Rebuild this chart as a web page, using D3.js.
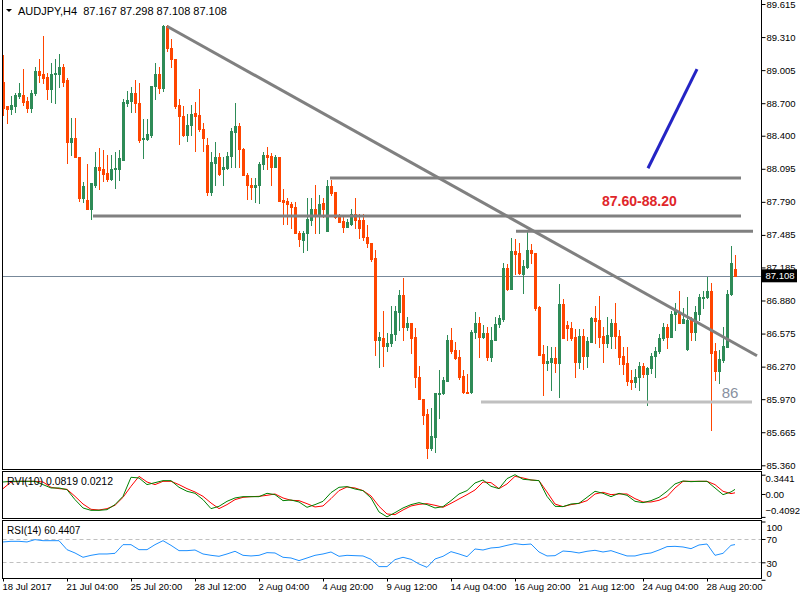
<!DOCTYPE html>
<html>
<head>
<meta charset="utf-8">
<script src="https://cdn.jsdelivr.net/npm/d3@7"></script>
<style>
  body { margin: 0; background: #fff; }
  svg text { font-family: "Liberation Sans", Arial, sans-serif; }
</style>
</head>
<body>
<div id="chart"></div>
<script>
// AUDJPY H4 bars (184 bars, 18 Jul .. 30 Aug 2017)
const opens = [88.90,88.67,88.65,88.67,88.77,88.78,88.72,88.66,88.79,89.00,88.97,88.94,88.83,88.97,88.97,89.03,88.91,88.34,88.38,88.20,
  87.83,87.81,87.72,87.95,88.11,88.09,88.06,88.00,88.09,88.09,88.18,88.70,88.72,88.79,88.70,88.37,88.37,88.41,88.86,88.97,
  88.84,89.41,89.21,89.11,88.68,88.58,88.41,88.50,88.61,88.59,88.46,88.31,87.88,88.15,88.20,88.09,88.10,88.21,88.43,88.49,
  88.28,88.04,87.95,87.93,87.95,88.14,88.22,88.21,88.11,88.20,87.81,87.80,87.77,87.74,87.50,87.44,87.50,87.62,87.72,87.67,
  87.78,87.52,87.94,87.88,87.65,87.61,87.56,87.59,87.68,87.62,87.62,87.47,87.41,87.27,86.52,86.53,86.46,86.49,86.57,86.77,
  86.93,86.64,86.67,86.54,86.17,85.97,85.83,85.52,85.62,86.02,86.03,86.14,86.52,86.42,86.36,86.18,86.04,86.04,86.59,86.67,
  86.54,86.58,86.36,86.52,86.66,86.71,87.18,86.99,87.34,87.32,87.12,87.19,87.35,87.32,86.82,86.39,86.30,86.31,86.35,86.30,
  86.85,86.65,86.63,86.54,86.31,86.55,86.37,86.50,86.72,86.70,86.55,86.49,86.55,86.67,86.55,86.37,86.30,86.15,86.13,86.17,
  86.28,86.20,86.26,86.37,86.41,86.53,86.64,86.54,86.76,86.77,86.67,86.43,86.70,86.59,86.76,86.90,86.91,86.97,86.41,86.23,
  86.33,86.45,86.94,87.167];
const highs = [89.14,88.67,88.77,88.79,88.89,89.02,88.76,88.82,89.03,89.11,89.32,88.98,89.07,89.11,89.15,89.06,88.93,88.56,88.56,88.20,
  87.97,88.14,87.96,88.25,88.29,88.27,88.22,88.22,88.25,88.27,88.74,88.81,88.85,88.91,88.89,88.55,88.55,88.86,89.07,89.03,
  89.42,89.42,89.29,89.11,88.74,88.67,88.60,88.68,88.71,88.83,88.52,88.38,88.25,88.34,88.24,88.20,88.25,88.47,88.70,88.52,
  88.29,88.06,88.01,88.01,88.16,88.25,88.30,88.24,88.22,88.20,87.91,87.83,87.79,87.79,87.52,87.52,87.83,87.83,87.95,87.85,
  87.83,87.99,87.99,87.88,87.68,87.65,87.63,87.72,87.83,87.68,87.68,87.58,87.41,87.35,86.59,86.78,86.58,86.83,86.83,86.98,
  87.09,86.73,86.67,86.63,86.28,85.97,85.88,85.89,86.03,86.24,86.17,86.56,86.63,86.50,86.42,86.24,86.20,86.61,86.77,86.73,
  86.65,86.64,86.64,86.73,86.75,87.23,87.22,87.46,87.45,87.41,87.25,87.53,87.40,87.32,86.83,86.47,86.46,86.45,86.45,87.03,
  86.89,86.69,86.68,86.62,86.62,86.62,86.54,86.73,86.83,86.92,86.64,86.73,86.71,86.86,86.61,86.45,86.45,86.24,86.25,86.31,
  86.30,86.27,86.40,86.45,86.57,86.67,86.66,86.78,86.86,86.97,86.81,86.91,86.73,86.83,86.94,86.97,87.10,87.04,86.49,86.42,
  86.64,86.98,87.38,87.298];
const lows = [88.59,88.52,88.60,88.62,88.75,88.68,88.62,88.62,88.78,88.90,88.89,88.74,88.71,88.70,88.85,88.86,88.15,88.22,88.20,87.80,
  87.79,87.72,87.63,87.93,87.91,87.98,87.98,87.99,87.92,87.99,88.18,88.67,88.62,88.62,88.34,88.19,88.36,88.39,88.74,88.79,
  88.81,89.18,89.03,88.66,88.32,88.40,88.35,88.41,88.26,88.44,88.26,87.85,87.85,87.95,88.04,87.95,88.09,88.11,88.11,88.11,
  88.04,87.82,87.82,87.79,87.78,88.09,88.09,87.95,88.11,87.80,87.59,87.59,87.55,87.50,87.38,87.33,87.35,87.58,87.50,87.50,
  87.65,87.52,87.85,87.64,87.60,87.51,87.56,87.58,87.55,87.46,87.44,87.37,87.24,86.38,86.27,86.28,86.41,86.46,86.52,86.61,
  86.52,86.61,86.40,86.08,85.97,85.74,85.43,85.50,85.48,85.80,86.02,86.14,86.40,86.34,86.16,86.03,86.03,86.03,86.53,86.36,
  86.53,86.33,86.32,86.52,86.64,86.69,86.98,86.99,87.12,87.12,86.95,87.18,87.23,86.79,86.38,86.01,86.24,86.05,86.22,85.99,
  86.53,86.52,86.52,86.17,86.26,86.25,86.27,86.50,86.49,86.45,86.31,86.45,86.44,86.44,86.29,86.20,86.10,86.06,86.08,86.05,
  86.17,85.92,86.21,86.17,86.40,86.52,86.44,86.54,86.61,86.67,86.67,86.42,86.52,86.52,86.70,86.81,86.90,85.69,86.15,86.12,
  86.31,86.45,86.93,87.108];
const closes = [88.66,88.65,88.68,88.78,88.79,88.71,88.66,88.79,89.00,88.96,88.93,88.83,88.97,88.98,89.03,88.90,88.34,88.38,88.20,87.83,
  87.94,87.72,87.96,88.11,88.08,88.05,88.00,88.09,88.10,88.19,88.71,88.73,88.79,88.70,88.36,88.38,88.42,88.86,88.97,88.84,
  89.41,89.21,89.11,88.67,88.58,88.41,88.50,88.60,88.58,88.46,88.38,87.88,88.16,88.20,88.05,88.11,88.21,88.44,88.49,88.28,
  88.04,87.95,87.93,87.95,88.14,88.22,88.20,88.11,88.20,87.80,87.79,87.77,87.74,87.50,87.45,87.50,87.63,87.72,87.67,87.77,
  87.72,87.94,87.87,87.65,87.60,87.56,87.60,87.68,87.62,87.55,87.47,87.41,87.26,86.52,86.54,86.46,86.49,86.57,86.78,86.93,
  86.64,86.67,86.53,86.17,85.97,85.82,85.52,85.63,86.03,86.03,86.15,86.52,86.41,86.35,86.17,86.04,86.03,86.59,86.67,86.54,
  86.58,86.36,86.52,86.66,86.72,87.18,86.99,87.34,87.31,87.13,87.20,87.35,87.32,86.81,86.38,86.30,86.32,86.35,86.30,86.85,
  86.53,86.63,86.53,86.31,86.55,86.37,86.51,86.72,86.69,86.54,86.49,86.56,86.67,86.55,86.36,86.29,86.14,86.13,86.17,86.28,
  86.20,86.26,86.37,86.41,86.53,86.64,86.54,86.76,86.78,86.67,86.71,86.70,86.59,86.77,86.91,86.91,86.97,86.40,86.23,86.34,
  86.46,86.94,87.23,87.108];

// price scale labels
const priceTicks = [89.615,89.310,89.005,88.700,88.400,88.095,87.790,87.485,87.185,86.880,86.575,86.270,85.970,85.665,85.360];

// time axis: bar index of each label
const dateIdx = [0,16,32,48,64,80,96,112,128,144,160,176];
const dateLabels = ["18 Jul 2017","21 Jul 04:00","25 Jul 20:00","28 Jul 12:00","2 Aug 04:00","4 Aug 20:00",
  "9 Aug 12:00","14 Aug 04:00","16 Aug 20:00","21 Aug 12:00","24 Aug 04:00","28 Aug 20:00"];

// indicators, read every second bar
const indIdx = [0,2,4,6,8,10,12,14,16,18,20,22,24,26,28,30,32,34,36,38,40,42,44,46,48,50,52,54,56,58,
  60,62,64,66,68,70,72,74,76,78,80,82,84,86,88,90,92,94,96,98,100,102,104,106,108,110,112,114,116,118,
  120,122,124,126,128,130,132,134,136,138,140,142,144,146,148,150,152,154,156,158,160,162,164,166,168,170,172,174,176,178,
  180,182,183];
const rviMain = [0.214,0.226,0.226,0.226,0.226,0.167,0.107,0.107,0.077,-0.101,
  -0.250,-0.292,-0.292,-0.280,-0.190,-0.042,0.298,0.286,0.167,0.202,
  0.238,0.238,0.119,0.048,0.012,-0.101,-0.262,-0.220,-0.131,-0.071,
  -0.048,-0.048,-0.048,0.012,-0.012,-0.119,-0.107,-0.143,-0.238,-0.190,
  -0.131,0.024,0.119,0.131,0.089,0.060,-0.071,-0.321,-0.409,-0.333,
  -0.250,-0.190,-0.155,-0.190,-0.250,-0.226,-0.119,0.000,0.060,0.196,
  0.250,0.137,0.095,0.274,0.344,0.262,0.250,0.238,-0.042,-0.220,
  -0.226,-0.179,-0.167,-0.060,0.048,0.012,-0.048,0.012,-0.024,-0.131,
  -0.155,-0.119,-0.060,0.048,0.179,0.232,0.220,0.226,0.226,0.107,
  -0.012,0.036,0.0819];
const rviSignal = [0.095,0.214,0.226,0.226,0.226,0.214,0.119,0.095,0.083,-0.042,
  -0.179,-0.274,-0.286,-0.262,-0.202,-0.060,0.137,0.315,0.214,0.167,
  0.226,0.226,0.167,0.095,0.036,-0.042,-0.161,-0.262,-0.190,-0.101,
  -0.060,-0.048,-0.042,-0.024,0.000,-0.071,-0.113,-0.119,-0.173,-0.232,
  -0.214,-0.083,0.060,0.125,0.107,0.060,-0.036,-0.220,-0.357,-0.369,
  -0.286,-0.214,-0.185,-0.173,-0.202,-0.238,-0.167,-0.089,-0.012,0.071,
  0.214,0.202,0.095,0.179,0.315,0.286,0.250,0.238,0.036,-0.179,
  -0.226,-0.190,-0.167,-0.119,0.000,0.030,-0.012,0.000,0.000,-0.083,
  -0.143,-0.143,-0.113,-0.048,0.107,0.226,0.226,0.226,0.226,0.167,
  0.048,0.006,0.0212];
const rsiValues = [64.9,66.0,66.0,64.9,68.9,67.1,67.1,67.1,51.7,46.0,
  38.6,42.0,44.3,44.3,45.4,60.3,60.3,51.7,51.7,60.3,
  67.1,59.1,50.0,50.0,51.1,44.3,42.0,40.3,44.3,48.9,
  42.0,40.9,42.0,46.6,46.0,38.6,37.4,32.9,37.4,42.0,
  44.3,47.7,40.3,42.0,41.4,40.9,35.1,22.6,22.6,34.6,
  38.6,35.1,27.1,21.4,35.7,40.3,48.3,44.3,39.7,52.9,
  51.1,54.6,55.7,59.1,62.0,60.3,61.4,47.7,40.9,41.4,
  49.4,48.3,46.0,48.9,50.6,47.7,50.0,45.4,40.9,40.9,
  44.3,46.0,51.1,56.9,57.4,56.3,53.4,59.7,61.4,42.0,
  45.4,59.1,60.4407];

// drawn objects: [bar index, price]
const trendLine = [[41, 89.41], [188.5, 86.37]];
const targetLine = [[161.25, 88.10], [173.5, 89.015]];
const levelPrices = [88.01, 87.66, 87.52];
const levelStart = [81.75, 22.5, 128.25];
const levelEnd = [184.5, 184.5, 187.5];
const supportPrice = 85.944;
const supportSpan = [119.5, 187.25];
const zoneText = "87.60-88.20";
const zoneAt = [159.1, 87.80];
const supportText = "86";
const supportAt = [181.75, 86.03];


class CandleChart {

    constructor(parentElement) {
        this.parentElement = parentElement;
        this.bars = opens.map((o, i) => ({i: i, o: o, h: highs[i], l: lows[i], c: closes[i]}));
        this.last = this.bars[this.bars.length - 1];
        this.axisFont = "9.5px";
    }

    initVis() {
        let vis = this;

        vis.left = 2.5;
        vis.right = 761.5;
        vis.panels = {
            main: {top: -0.5, bottom: 469.5},
            rvi: {top: 471.5, bottom: 518.5},
            rsi: {top: 520.5, bottom: 578.5}
        };

        vis.svg = d3.select("#" + vis.parentElement).append("svg")
            .attr("width", 800)
            .attr("height", 600);

        vis.svg.append("rect").attr("width", 800).attr("height", 600).attr("fill", "#fff");

        // Scales
        vis.x = d3.scaleLinear().domain([0, 183]).range([3, 735]);
        vis.y = d3.scaleLinear().domain([85.36, 89.615]).range([465.3, 4.0]);
        vis.yRvi = d3.scaleLinear().domain([-0.4092, 0.3441]).range([516.9, 474.7]);
        vis.yRsi = d3.scaleLinear().domain([0, 100]).range([579.8, 521.5]);

        // clip paths for each window
        let defs = vis.svg.append("defs");
        Object.entries(vis.panels).forEach(([k, p]) => {
            defs.append("clipPath").attr("id", "clip-" + k)
                .append("rect")
                .attr("x", vis.left).attr("y", p.top)
                .attr("width", vis.right - vis.left).attr("height", p.bottom - p.top);
        });

        vis.drawPrice();
        vis.drawIndicators();
        vis.drawFrames();
    }

    drawPrice() {
        let vis = this;
        let g = vis.svg.append("g").attr("clip-path", "url(#clip-main)");

        // last price line
        g.append("line")
            .attr("x1", vis.left).attr("x2", vis.right)
            .attr("y1", Math.round(vis.y(vis.last.c)) + 0.5)
            .attr("y2", Math.round(vis.y(vis.last.c)) + 0.5)
            .attr("stroke", "#778899").attr("stroke-width", 1);

        // candles
        let candles = g.selectAll(".candle").data(vis.bars).enter().append("g")
            .attr("class", "candle")
            .attr("fill", d => d.c >= d.o ? "#2e8b57" : "#ff4500");

        candles.append("rect")
            .attr("x", d => Math.round(vis.x(d.i)))
            .attr("width", 1)
            .attr("y", d => Math.round(vis.y(d.h)))
            .attr("height", d => Math.round(vis.y(d.l)) - Math.round(vis.y(d.h)) + 1);

        candles.append("rect")
            .attr("x", d => Math.round(vis.x(d.i)) - 1)
            .attr("width", 3)
            .attr("y", d => Math.round(vis.y(Math.max(d.o, d.c))))
            .attr("height", d => Math.max(1, Math.round(vis.y(Math.min(d.o, d.c))) - Math.round(vis.y(Math.max(d.o, d.c))) + 1));

        // drawn levels
        levelPrices.forEach((p, k) => {
            g.append("line")
                .attr("x1", vis.x(levelStart[k])).attr("x2", vis.x(levelEnd[k]))
                .attr("y1", vis.y(p)).attr("y2", vis.y(p))
                .attr("stroke", "#808080").attr("stroke-width", 3);
        });
        g.append("line")
            .attr("x1", vis.x(supportSpan[0])).attr("x2", vis.x(supportSpan[1]))
            .attr("y1", vis.y(supportPrice)).attr("y2", vis.y(supportPrice))
            .attr("stroke", "#c0c0c0").attr("stroke-width", 3);

        let line = d3.line().x(d => vis.x(d[0])).y(d => vis.y(d[1]));
        g.append("path").datum(trendLine).attr("d", line)
            .attr("fill", "none").attr("stroke", "#808080").attr("stroke-width", 3);
        g.append("path").datum(targetLine).attr("d", line)
            .attr("fill", "none").attr("stroke", "#2424c4").attr("stroke-width", 3);

        g.append("text")
            .attr("x", vis.x(zoneAt[0])).attr("y", vis.y(zoneAt[1]))
            .attr("text-anchor", "middle").attr("dominant-baseline", "central")
            .attr("font-size", "14px").attr("font-weight", "bold").attr("fill", "#e0262a")
            .text(zoneText);
        g.append("text")
            .attr("x", vis.x(supportAt[0])).attr("y", vis.y(supportAt[1]))
            .attr("text-anchor", "middle").attr("dominant-baseline", "central")
            .attr("font-size", "15px").attr("fill", "#8890a0")
            .text(supportText);

        // header
        vis.svg.append("path").attr("d", "M6,9L12,9L9,12Z").attr("fill", "#000");
        vis.svg.append("text")
            .attr("x", 18).attr("y", 11).attr("dominant-baseline", "central")
            .attr("font-size", "11px").attr("fill", "#000")
            .attr("xml:space", "preserve")
            .text("AUDJPY,H4  " + [vis.last.o, vis.last.h, vis.last.l, vis.last.c].map(d3.format(".3f")).join(" "));

        // price axis
        let axis = vis.svg.append("g")
            .attr("transform", `translate(${vis.right},0)`)
            .call(d3.axisRight(vis.y).tickValues(priceTicks).tickSize(4).tickFormat(d3.format(".3f")));
        axis.select(".domain").remove();
        axis.selectAll("text").attr("font-size", vis.axisFont).attr("font-family", "Liberation Sans, Arial, sans-serif")
            .attr("x", 5).attr("fill", "#000");

        // last price marker
        let yLast = vis.y(vis.last.c);
        vis.svg.append("rect")
            .attr("x", vis.right + 0.5).attr("y", yLast - 6.5)
            .attr("width", 35).attr("height", 13).attr("fill", "#000");
        vis.svg.append("text")
            .attr("x", vis.right + 4).attr("y", yLast).attr("dominant-baseline", "central")
            .attr("font-size", vis.axisFont).attr("fill", "#fff")
            .text(d3.format(".3f")(vis.last.c));
    }

    drawIndicators() {
        let vis = this;

        // RVI window
        let gR = vis.svg.append("g").attr("clip-path", "url(#clip-rvi)");
        let rviLine = values => d3.line()
            .x((d, k) => vis.x(indIdx[k]))
            .y(d => vis.yRvi(d))(values);
        gR.append("path").attr("d", rviLine(rviSignal))
            .attr("fill", "none").attr("stroke", "#ff0000").attr("stroke-width", 1);
        gR.append("path").attr("d", rviLine(rviMain))
            .attr("fill", "none").attr("stroke", "#008000").attr("stroke-width", 1);
        vis.svg.append("text")
            .attr("x", 7).attr("y", 481).attr("dominant-baseline", "central")
            .attr("font-size", "10.5px").attr("fill", "#000")
            .text("RVI(10) " + rviMain[rviMain.length - 1].toFixed(4) + " " + rviSignal[rviSignal.length - 1].toFixed(4));

        let rviAxis = vis.svg.append("g")
            .attr("transform", `translate(${vis.right},0)`)
            .call(d3.axisRight(vis.yRvi).tickValues([0.3441, 0, -0.4092]).tickSize(4)
                .tickFormat(d => d === 0 ? "0.00" : d3.format(".4f")(d)));
        rviAxis.select(".domain").remove();
        rviAxis.selectAll("text").attr("font-size", vis.axisFont).attr("font-family", "Liberation Sans, Arial, sans-serif")
            .attr("x", 4).attr("fill", "#000")
            .attr("dy", d => d > 0 ? "0.75em" : d < 0 ? "-0.35em" : "0.32em");

        // RSI window
        let gS = vis.svg.append("g").attr("clip-path", "url(#clip-rsi)");
        [70, 30].forEach(v => {
            gS.append("line")
                .attr("x1", vis.left).attr("x2", vis.right)
                .attr("y1", Math.round(vis.yRsi(v)) + 0.5).attr("y2", Math.round(vis.yRsi(v)) + 0.5)
                .attr("stroke", "#c0c0c0").attr("stroke-dasharray", "4,3");
        });
        gS.append("path")
            .attr("d", d3.line().x((d, k) => vis.x(indIdx[k])).y(d => vis.yRsi(d))(rsiValues))
            .attr("fill", "none").attr("stroke", "#1e90ff").attr("stroke-width", 1);
        vis.svg.append("text")
            .attr("x", 7).attr("y", 530).attr("dominant-baseline", "central")
            .attr("font-size", "10px").attr("fill", "#000")
            .text("RSI(14) " + rsiValues[rsiValues.length - 1].toFixed(4));

        let rsiAxis = vis.svg.append("g")
            .attr("transform", `translate(${vis.right},0)`)
            .call(d3.axisRight(vis.yRsi).tickValues([100, 70, 30, 0]).tickSize(4));
        rsiAxis.select(".domain").remove();
        rsiAxis.selectAll("text").attr("font-size", vis.axisFont).attr("font-family", "Liberation Sans, Arial, sans-serif")
            .attr("x", 5).attr("fill", "#000")
            .attr("dy", d => d === 100 ? "0.95em" : d === 0 ? "-0.4em" : "0.4em");

        // time axis
        let xAxis = vis.svg.append("g")
            .attr("transform", `translate(0,${vis.panels.rsi.bottom})`)
            .call(d3.axisBottom(vis.x).tickValues(dateIdx).tickSize(3).tickFormat((d, k) => dateLabels[k]));
        xAxis.select(".domain").remove();
        xAxis.selectAll("text").attr("font-size", vis.axisFont).attr("font-family", "Liberation Sans, Arial, sans-serif")
            .attr("text-anchor", "start").attr("x", -1).attr("y", 5).attr("fill", "#000");
    }

    drawFrames() {
        let vis = this;
        Object.values(vis.panels).forEach(p => {
            vis.svg.append("rect")
                .attr("x", vis.left).attr("y", p.top)
                .attr("width", vis.right - vis.left).attr("height", p.bottom - p.top)
                .attr("fill", "none").attr("stroke", "#000").attr("stroke-width", 1);
        });
    }
}

let chart = new CandleChart("chart");
chart.initVis();
</script>
</body>
</html>
